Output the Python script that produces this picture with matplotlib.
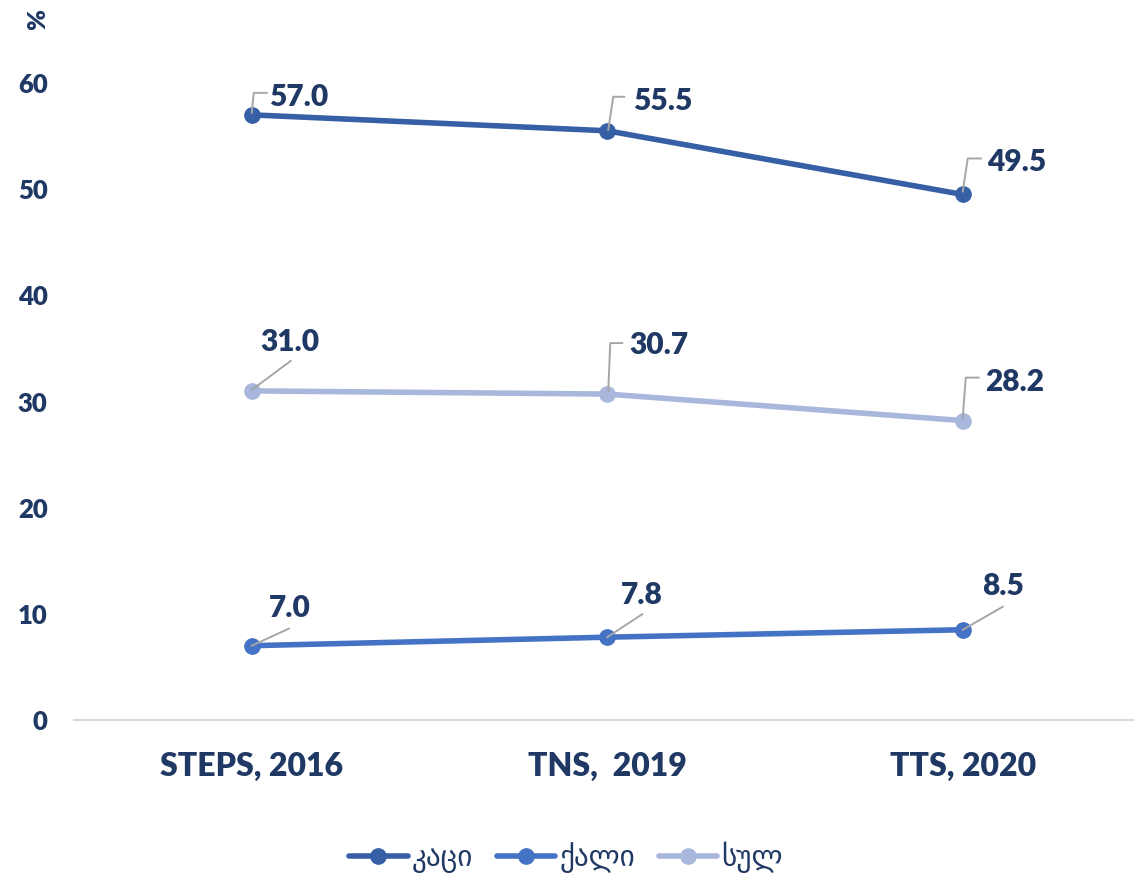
import matplotlib
matplotlib.use("Agg")
import matplotlib.pyplot as plt
from matplotlib.lines import Line2D
from matplotlib.transforms import IdentityTransform

categories = ["STEPS, 2016", "TNS,  2019", "TTS, 2020"]
series_names = ["კაცი", "ქალი", "სულ"]
men = [57.0, 55.5, 49.5]
women = [7.0, 7.8, 8.5]
total = [31.0, 30.7, 28.2]
yticks = [0, 10, 20, 30, 40, 50, 60]

colors = ["#375FA6", "#4472C4", "#A9B7DC"]
text_color = "#1F3864"
leader_color = "#A6A6A6"
FONT = ["Lato", "DejaVu Sans"]
WEIGHT = "heavy"

W, H = 1134, 873
fig = plt.figure(figsize=(W / 100, H / 100), dpi=100)
ax = fig.add_axes([74 / W, (H - 720) / H, 1066.5 / W, 637 / H])
ax.set_xlim(-0.5, 2.5)
ax.set_ylim(0, 60)

x = list(range(len(categories)))
all_series = [men, women, total]
for vals, name, c in zip(all_series, series_names, colors):
    ax.plot(x, vals, color=c, lw=4, marker="o", ms=11, label=name,
            solid_capstyle="round", clip_on=False, zorder=3)

for s in ["top", "right", "left"]:
    ax.spines[s].set_visible(False)
ax.spines["bottom"].set_color("#D9D9D9")
ax.spines["bottom"].set_linewidth(1.5)
ax.set_yticks(yticks)
ax.set_xticks(x)
ax.set_xticklabels(categories)
ax.tick_params(length=0)
ax.tick_params(axis="y", pad=19)
ax.tick_params(axis="x", pad=23)
for lab in ax.get_yticklabels():
    lab.set_fontfamily(FONT)
    lab.set_fontweight(WEIGHT)
    lab.set_fontsize(18.5)
    lab.set_color(text_color)
for lab in ax.get_xticklabels():
    lab.set_fontfamily(FONT)
    lab.set_fontweight(WEIGHT)
    lab.set_fontsize(23)
    lab.set_color(text_color)

# label placement (pixel offsets): text center dx, baseline dy, leader vertices
placements = {
    (0, 0): ((47, 9), [(0, 2), (2, 22), (15, 22)]),
    (0, 1): ((55, 21), [(1, 1), (6, 34), (17, 34)]),
    (0, 2): ((54, 23), [(0, 3), (5, 36), (18, 36)]),
    (1, 0): ((38, 29), [(0, 0), (37, 17)]),
    (1, 1): ((35, 33), [(0, 0), (35, 23)]),
    (1, 2): ((40, 35), [(0, 0), (40, 23)]),
    (2, 0): ((38, 40), [(0, 1), (39, 30)]),
    (2, 1): ((52, 40), [(1, 3), (3, 51), (15, 51)]),
    (2, 2): ((52, 30), [(0, 3), (3, 43), (16, 43)]),
}

fig.canvas.draw()
for si, vals in enumerate(all_series):
    for xi, v in enumerate(vals):
        (tdx, tdy), leader = placements[(si, xi)]
        px, py = ax.transData.transform((xi, v))
        fig.text((px + tdx) / W, (py + tdy) / H, f"{v:.1f}", ha="center",
                 va="baseline", fontsize=21.5, fontweight=WEIGHT,
                 color=text_color, family=FONT)
        xs = [px + a for a, b in leader]
        ys = [py + b for a, b in leader]
        fig.add_artist(Line2D(xs, ys, transform=IdentityTransform(),
                              color=leader_color, lw=1.4, zorder=4))

fig.text(38 / W, 1 - 20 / H, "%", rotation=90, ha="center", va="center",
         fontsize=18, fontweight=WEIGHT, color=text_color, family=FONT)

leg = fig.legend(loc="center", bbox_to_anchor=(566 / W, 1 - 857 / H), ncol=3,
                 frameon=False, handlelength=2.0, columnspacing=0.8,
                 handletextpad=0.15, prop={"family": FONT, "size": 21})
for t in leg.get_texts():
    t.set_color(text_color)

fig.savefig("out.png", dpi=100)
